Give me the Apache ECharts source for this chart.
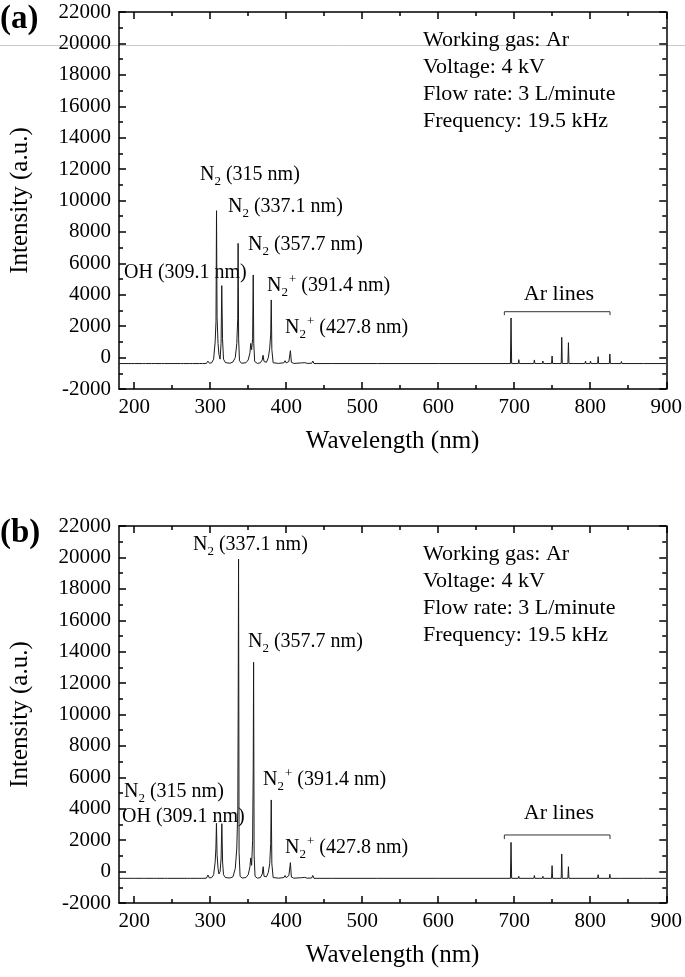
<!DOCTYPE html>
<html><head><meta charset="utf-8">
<script src="https://cdn.jsdelivr.net/npm/echarts@6/dist/echarts.min.js"></script>
<style>html,body{margin:0;padding:0;background:#fff}#c{width:685px;height:977px}</style>
</head><body><div id="c"></div>
<script>
// ---------- DATA ----------
const xMajorTicks = [200, 300, 400, 500, 600, 700, 800, 900];
const xMinorTicks = [250, 350, 450, 550, 650, 750, 850];
const yMin = -2000, yMax = 22000, yStep = 2000;

// (a) spectrum: [wavelength nm, intensity a.u.]
const spectrumA = [
  [180,-380],[196,-380],[198,-300],[200,-380],[211,-380],[213,-310],[215,-380],[223,-380],[225,-300],[227,-380],
  [236,-380],[238,-280],[240,-380],[247,-380],[249,-320],[251,-380],[261,-380],[263,-330],[265,-380],[273,-380],
  [275,-320],[277,-380],[286,-380],[288,-300],[290,-380],[295,-370],[297,-230],[299,-360],[302,-330],[304.5,-100],
  [306.5,1000],[307.6,2300],[308.3,9350],[309,2600],[310.3,900],[311.5,200],[313,-100],[314.3,900],[315.2,4580],[316.2,1200],
  [317.5,-100],[320,-320],[326,-360],[330,-280],[333,0],[335,900],[336.2,2500],[336.7,7270],[337.4,1200],[338.5,-200],
  [341,-360],[347,-330],[350,-150],[352.3,300],[353.3,900],[354.5,500],[355.8,1200],[356.6,5260],[357.3,900],[358.5,-250],
  [362,-370],[366,-330],[368.5,-150],[369.5,150],[370.8,-250],[374,-300],[376.5,0],[378.3,600],[379.6,1500],[380.3,3670],
  [381.1,500],[382.8,-330],[390,-370],[397,-330],[398.5,-200],[400,-340],[403.5,-250],[405.5,440],[406.8,-300],[410,-370],
  [420,-340],[424.5,-320],[426,-250],[427.5,-370],[433.5,-360],[435,-220],[436.5,-380],[460,-380],[520,-380],[600,-380],
  [680,-380],[695,-380],[695.8,2520],[696.6,-380],[705.3,-380],[706,-130],[706.7,-380],[725.8,-380],[726.5,-150],[727.2,-380],
  [737,-380],[737.7,-220],[738.4,-380],[749.1,-380],[749.8,100],[750.5,-380],[761.8,-380],[762.5,1290],[763.2,-380],
  [770.6,-380],[771.3,950],[772,-380],[793.1,-380],[793.8,-220],[794.5,-380],[799.7,-380],[800.4,-220],[801.1,-380],
  [809.7,-380],[810.4,60],[811.1,-380],[825.1,-380],[825.8,230],[826.5,-380],[840.3,-380],[841,-250],[841.7,-380],
  [870,-380],[900,-380]
];

// (b) spectrum
const spectrumB = [
  [180,-430],[196,-430],[198,-370],[200,-430],[211,-430],[213,-380],[215,-430],[225,-430],[227,-370],[229,-430],
  [240,-430],[242,-380],[244,-430],[255,-430],[257,-390],[259,-430],[270,-430],[272,-380],[274,-430],[285,-430],
  [287,-370],[289,-430],[295,-420],[297,-220],[299,-410],[302,-380],[304.5,-200],[306.5,600],[307.5,1500],[308.2,3070],
  [309,1100],[310.3,200],[311.5,-150],[313,0],[314.3,800],[315.3,3050],[316.3,600],[317.5,-200],[320,-380],[326,-410],
  [330,-330],[333,200],[335,1500],[336.3,4000],[336.8,10400],[337.3,19900],[338,1200],[339.3,-300],[342,-410],[347,-380],
  [350,-200],[352.3,300],[353.3,870],[354.5,400],[355.8,2000],[356.6,6500],[357.1,13320],[357.8,1000],[359,-300],[362,-420],
  [366,-380],[368.5,-150],[369.7,310],[370.8,-300],[374,-330],[376.5,-50],[378.3,500],[379.6,1800],[380.3,4560],[381.1,500],
  [382.8,-380],[390,-420],[397,-380],[398.5,-250],[400,-390],[403.5,-250],[405.5,570],[406.8,-350],[410,-420],[420,-390],
  [424.5,-370],[426,-250],[427.5,-420],[433.5,-410],[435,-250],[436.5,-430],[460,-430],[520,-430],[600,-430],[680,-430],
  [695,-430],[695.8,1860],[696.6,-430],[705.3,-430],[706,-300],[706.7,-430],[725.8,-430],[726.5,-250],[727.2,-430],
  [737,-430],[737.7,-300],[738.4,-430],[749.1,-430],[749.8,380],[750.5,-430],[761.8,-430],[762.5,1120],[763.2,-430],
  [770.6,-430],[771.3,310],[772,-430],[793.1,-430],[793.8,-330],[794.5,-430],[799.7,-430],[800.4,-330],[801.1,-430],
  [809.7,-430],[810.4,-200],[811.1,-430],[825.1,-430],[825.8,-170],[826.5,-430],[840.3,-430],[841,-380],[841.7,-430],
  [870,-430],[900,-430]
];

// "Ar lines" brackets (wavelength, intensity)
const bracketA = [[687,2700],[687,2920],[826,2920],[826,2700]];
const bracketB = [[687,2070],[687,2330],[826,2330],[826,2070]];

// Text content
const panelTags = ['(a)', '(b)'];
const conditions = ['Working gas: Ar', 'Voltage: 4 kV', 'Flow rate: 3 L/minute', 'Frequency: 19.5 kHz'];
const speciesA = [['N2','(315 nm)'],['N2','(337.1 nm)'],['N2','(357.7 nm)'],['OH','(309.1 nm)'],['N2+','(391.4 nm)'],['N2+','(427.8 nm)']];
const speciesB = [['N2','(337.1 nm)'],['N2','(357.7 nm)'],['N2+','(391.4 nm)'],['N2','(315 nm)'],['OH','(309.1 nm)'],['N2+','(427.8 nm)']];
const arLabel = 'Ar lines';
const xTitle = 'Wavelength (nm)';
const yTitle = 'Intensity (a.u.)';

// ---------- LAYOUT ----------
const FONT = 'Liberation Serif';
const GRID_TOP = [12, 526];
const GRID_LEFT = 119, GRID_W = 549, GRID_H = 377;
const labelPosA = [[200,175],[228,207],[248,245],[124,273],[267,286],[285,328]];
const labelPosB = [[193,545],[248,642],[263,780],[124,792],[122,817],[285,848]];
const condX = 423, condY0 = [40, 554], condDY = 27;
const arPos = [[559,294],[559,813]];

const chart = echarts.init(document.getElementById('c'), null, {renderer: 'canvas'});

const axisLineStyle = {color: '#000', width: 1.5};
function xAxesFor(gi) {
  const base = {gridIndex: gi, type: 'value', min: 180, max: 900, splitLine: {show: false}};
  return [
    Object.assign({}, base, {position: 'bottom',
      axisLine: {show: true, onZero: false, lineStyle: axisLineStyle},
      axisTick: {show: true, inside: true, length: 7, customValues: xMajorTicks, lineStyle: axisLineStyle},
      axisLabel: {show: true, customValues: xMajorTicks, color: '#000', fontFamily: FONT, fontSize: 21, margin: 8},
      name: xTitle, nameLocation: 'middle', nameGap: 40,
      nameTextStyle: {color: '#000', fontFamily: FONT, fontSize: 25}}),
    Object.assign({}, base, {position: 'bottom',
      axisLine: {show: false, onZero: false},
      axisTick: {show: true, inside: true, length: 4, customValues: xMinorTicks, lineStyle: axisLineStyle},
      axisLabel: {show: false}}),
    Object.assign({}, base, {position: 'top',
      axisLine: {show: true, onZero: false, lineStyle: axisLineStyle},
      axisTick: {show: true, inside: true, length: 7, customValues: xMajorTicks, lineStyle: axisLineStyle},
      axisLabel: {show: false}}),
    Object.assign({}, base, {position: 'top',
      axisLine: {show: false, onZero: false},
      axisTick: {show: true, inside: true, length: 4, customValues: xMinorTicks, lineStyle: axisLineStyle},
      axisLabel: {show: false}})
  ];
}
function yAxesFor(gi) {
  const base = {gridIndex: gi, type: 'value', min: yMin, max: yMax, interval: yStep, splitLine: {show: false},
    minorTick: {show: true, splitNumber: 2, length: 4, lineStyle: axisLineStyle}, minorSplitLine: {show: false}};
  return [
    Object.assign({}, base, {position: 'left',
      axisLine: {show: true, onZero: false, lineStyle: axisLineStyle},
      axisTick: {show: true, inside: true, length: 7, lineStyle: axisLineStyle},
      axisLabel: {show: true, color: '#000', fontFamily: FONT, fontSize: 21, margin: 8,
        formatter: v => String(v)},
      name: yTitle, nameLocation: 'middle', nameGap: 86,
      nameTextStyle: {color: '#000', fontFamily: FONT, fontSize: 25}}),
    Object.assign({}, base, {position: 'right',
      axisLine: {show: true, onZero: false, lineStyle: axisLineStyle},
      axisTick: {show: true, inside: true, length: 7, lineStyle: axisLineStyle},
      axisLabel: {show: false}})
  ];
}

function richLabel(sp, rest) {
  if (sp === 'N2') return '{n|N}{s|2}{n| ' + rest + '}';
  if (sp === 'N2+') return '{n|N}{s|2}{p|+}{n| ' + rest + '}';
  return '{n|' + sp + ' ' + rest + '}';
}
const rich = {
  n: {fontFamily: FONT, fontSize: 20, lineHeight: 26, fill: '#000'},
  s: {fontFamily: FONT, fontSize: 13, lineHeight: 13, verticalAlign: 'bottom', fill: '#000'},
  p: {fontFamily: FONT, fontSize: 13, lineHeight: 13, verticalAlign: 'top', fill: '#000', padding: [0, 0, 0, 1]}
};

const graphics = [
  // faint horizontal scan line present across the reference image
  {type: 'line', shape: {x1: 0, y1: 45.5, x2: 685, y2: 45.5}, style: {stroke: '#c8c8c8', lineWidth: 1}, z: -1}
];
[0, 1].forEach(gi => {
  graphics.push({type: 'text', x: 0, y: GRID_TOP[gi] + 7, style: {text: panelTags[gi], fill: '#000',
    font: 'bold 33px "' + FONT + '"', verticalAlign: 'middle', align: 'left'}});
  conditions.forEach((c, i) => graphics.push({type: 'text', x: condX, y: condY0[gi] + i * condDY,
    style: {text: c, fill: '#000', font: '22px "' + FONT + '"', verticalAlign: 'middle', align: 'left'}}));
  const sp = gi === 0 ? speciesA : speciesB;
  const pos = gi === 0 ? labelPosA : labelPosB;
  sp.forEach((s, i) => graphics.push({type: 'text', x: pos[i][0], y: pos[i][1],
    style: {text: richLabel(s[0], s[1]), rich: rich, fill: '#000', verticalAlign: 'middle', align: 'left'}}));
  graphics.push({type: 'text', x: arPos[gi][0], y: arPos[gi][1], style: {text: arLabel, fill: '#000',
    font: '22px "' + FONT + '"', verticalAlign: 'middle', align: 'center'}});
});

chart.setOption({
  animation: false,
  backgroundColor: '#fff',
  grid: GRID_TOP.map(t => ({left: GRID_LEFT, top: t, width: GRID_W, height: GRID_H})),
  xAxis: xAxesFor(0).concat(xAxesFor(1)),
  yAxis: yAxesFor(0).concat(yAxesFor(1)),
  series: [
    {type: 'line', xAxisIndex: 0, yAxisIndex: 0, data: spectrumA, showSymbol: false, symbol: 'none',
      lineStyle: {color: '#1a1a1a', width: 1}, z: 3},
    {type: 'line', xAxisIndex: 0, yAxisIndex: 0, data: bracketA, showSymbol: false, symbol: 'none',
      lineStyle: {color: '#333', width: 1}},
    {type: 'line', xAxisIndex: 4, yAxisIndex: 2, data: spectrumB, showSymbol: false, symbol: 'none',
      lineStyle: {color: '#1a1a1a', width: 1}, z: 3},
    {type: 'line', xAxisIndex: 4, yAxisIndex: 2, data: bracketB, showSymbol: false, symbol: 'none',
      lineStyle: {color: '#333', width: 1}}
  ],
  graphic: graphics
});
</script>
</body></html>
